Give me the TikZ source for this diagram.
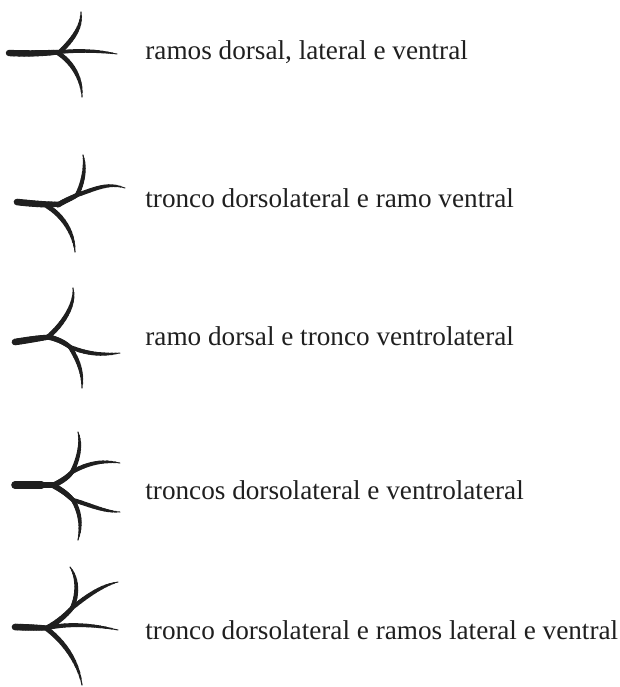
\documentclass[tikz,border=0pt]{standalone}
\usepackage{fontspec}
\setmainfont{Liberation Serif}
\newcommand\ramo[3]{\path #3 \foreach \k in {0,...,12}{coordinate[pos=\k/12] (r\k)};
                    \foreach \k [evaluate=\k as \lw using #2+(#1-#2)*(1-(\k/12)^3), count=\j from 0] in {1,...,12}
                        {\draw[line width=\lw pt,line cap=round] (r\j) -- (r\k);}}
\tikzset{legenda/.style={anchor=west,inner sep=0pt,font=\fontsize{13.6}{15}\selectfont}}

\begin{document}
\begin{tikzpicture}[x=0.5pt,y=-0.5pt,color=black!88]
                \useasboundingbox (0,0) rectangle (620,687);
                \ramo{3.2}{2.3}{(9,53) .. controls (30,54) and (48,53) .. (60,52)}
                \ramo{2.3}{0.6}{(60,52) .. controls (72,40) and (82,28) .. (81,12)}
                \ramo{1.9}{0.5}{(60,52) .. controls (80,50) and (100,51) .. (117,54)}
                \ramo{2.3}{0.6}{(58,53) .. controls (72,62) and (82,78) .. (82,97)}
                \node[legenda] (l1) at (145,52) {ramos dorsal, lateral e ventral};
                \ramo{3.3}{2.4}{(17,202) .. controls (35,204) and (50,205) .. (60,204)}
                \ramo{2.6}{2.2}{(58,205) .. controls (66,200) and (72,198) .. (77,195)}
                \ramo{2.1}{0.6}{(77,195) .. controls (83,183) and (86,168) .. (83,155)}
                \ramo{2.1}{0.5}{(77,195) .. controls (95,189) and (108,182) .. (125,188)}
                \ramo{2.4}{0.6}{(47,206) .. controls (62,215) and (74,232) .. (75,252)}
                \node[legenda] (l2) at (145,198) {tronco dorsolateral e ramo ventral};
                \ramo{3.3}{2.4}{(15,342) .. controls (28,340) and (40,338) .. (50,337)}
                \ramo{2.4}{0.6}{(48,337) .. controls (62,325) and (76,305) .. (73,288)}
                \ramo{2.6}{2.2}{(48,337) .. controls (58,339) and (65,343) .. (70,347)}
                \ramo{2.1}{0.5}{(70,347) .. controls (90,355) and (105,355) .. (120,353)}
                \ramo{2.1}{0.6}{(70,347) .. controls (78,360) and (83,372) .. (82,388)}
                \node[legenda] (l3) at (145,336) {ramo dorsal e tronco ventrolateral};
                \ramo{3.8}{2.9}{(15,485) -- (55,485)}
                \ramo{2.7}{2.2}{(54,485) .. controls (62,481) and (68,477) .. (72,472)}
                \ramo{2.1}{0.6}{(72,472) .. controls (78,460) and (82,445) .. (78,432)}
                \ramo{2.1}{0.5}{(72,472) .. controls (88,463) and (103,460) .. (120,463)}
                \ramo{2.7}{2.2}{(54,486) .. controls (62,490) and (68,495) .. (73,500)}
                \ramo{2.1}{0.5}{(73,500) .. controls (90,505) and (105,512) .. (120,512)}
                \ramo{2.1}{0.6}{(73,500) .. controls (80,512) and (82,525) .. (78,540)}
                \node[legenda] (l4) at (145,490) {troncos dorsolateral e ventrolateral};
                \ramo{3.3}{2.5}{(15,627) -- (47,628)}
                \ramo{2.6}{2.2}{(47,628) .. controls (58,622) and (66,615) .. (72,608)}
                \ramo{2.1}{0.6}{(72,608) .. controls (78,595) and (78,578) .. (70,567)}
                \ramo{2.1}{0.5}{(72,608) .. controls (88,595) and (103,585) .. (118,582)}
                \ramo{2.1}{0.5}{(47,628) .. controls (70,623) and (95,625) .. (118,630)}
                \ramo{2.4}{0.6}{(47,629) .. controls (62,640) and (78,660) .. (82,685)}
                \node[legenda] (l5) at (145,630) {tronco dorsolateral e ramos lateral e ventral};
            \end{tikzpicture}
\end{document}
